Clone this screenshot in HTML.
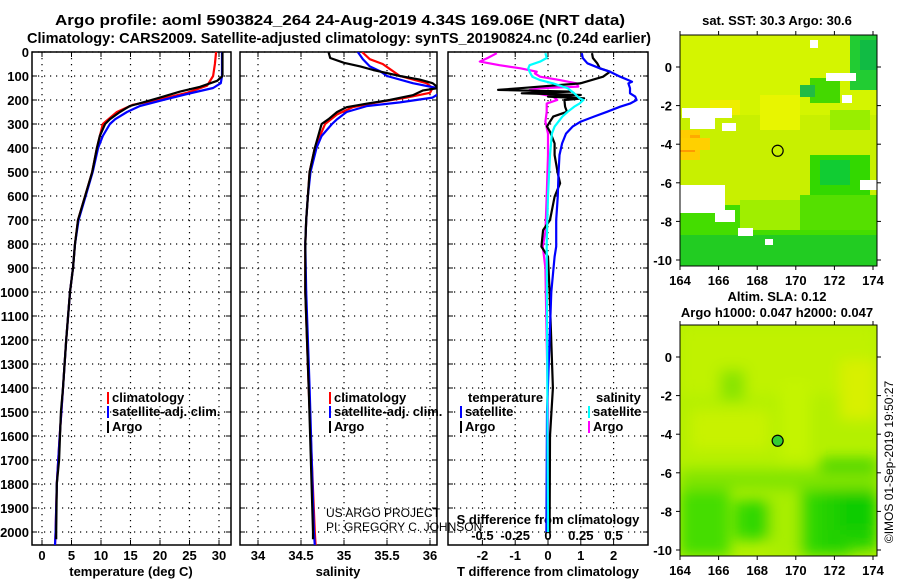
<!DOCTYPE html>
<html><head><meta charset="utf-8">
<style>
html,body{margin:0;padding:0;background:#fff;}
svg{display:block;font-family:"Liberation Sans",sans-serif;}
.b{font-weight:bold;font-size:13px;}
.n{font-weight:normal;font-size:12px;}
</style></head>
<body>
<svg id="s" width="900" height="580" viewBox="0 0 900 580" xmlns="http://www.w3.org/2000/svg">
<defs>
<clipPath id="c1"><rect x="32" y="52" width="199" height="493"/></clipPath>
<clipPath id="c2"><rect x="240" y="52" width="197" height="493"/></clipPath>
<clipPath id="c3"><rect x="448" y="52" width="200" height="493"/></clipPath>
<filter id="bl"><feGaussianBlur stdDeviation="7"/></filter>
<clipPath id="cm2"><rect x="680" y="325" width="197" height="231"/></clipPath>
</defs>
<text x="55" y="25" textLength="570" lengthAdjust="spacingAndGlyphs" font-weight="bold" font-size="15">Argo profile: aoml 5903824_264 24-Aug-2019 4.34S 169.06E (NRT data)</text>
<text x="27" y="43" textLength="624" lengthAdjust="spacingAndGlyphs" font-weight="bold" font-size="15">Climatology: CARS2009. Satellite-adjusted climatology: synTS_20190824.nc (0.24d earlier)</text>
<g id="g"></g>
</svg>
<script>
// ---- data ----
const tempArgoDepth=[0,100,120,145,165,190,210,225,250,280,300,350,400,500,600,700,800,900,1000,1200,1400,1500,1700,1800,2000,2030];
const tempArgo=[30.6,30.6,29.7,26.8,23.4,20.0,17.1,14.9,13.2,11.5,10.7,9.8,9.3,8.5,7.3,6.1,5.6,5.25,4.75,4.1,3.56,3.2,2.9,2.5,2.4,2.4];
const tempClimDepth=[0,50,100,140,170,200,220,250,300,400,500,600,700,800,900,1000,1200,1400,1600,1800,2000,2055];
const tempClim=[29.5,29.3,29.0,28.0,24.6,19.5,15.4,12.7,10.3,9.3,8.5,7.3,6.1,5.6,5.25,4.75,4.1,3.56,3.0,2.5,2.3,2.2];
const tempSatDepth=[0,100,130,150,175,200,225,250,280,300,350,400,500,600,700,800,900,1000,1200,1400,1600,1800,2000,2055];
const tempSat=[30.5,30.5,30.3,29.0,24.6,20.5,16.6,14.4,12.4,11.5,10.3,9.5,8.6,7.4,6.2,5.6,5.25,4.75,4.1,3.56,3.0,2.5,2.3,2.2];

const salArgoDepth=[0,25,45,60,75,100,115,130,150,160,180,200,215,230,250,280,300,350,400,500,600,700,800,1000,1400,2000,2030];
const salArgo=[34.82,34.84,35.0,35.19,35.34,35.65,35.88,36.03,36.1,35.92,35.8,35.53,35.27,35.03,34.92,34.82,34.74,34.7,34.66,34.6,34.58,34.56,34.55,34.55,34.59,34.64,34.64];
const salClimDepth=[0,30,50,70,100,130,150,170,190,210,230,260,300,400,500,600,700,800,1000,1400,2000,2055];
const salClim=[35.21,35.3,35.45,35.53,35.65,35.96,36.03,36.0,35.73,35.38,35.1,34.92,34.78,34.66,34.6,34.58,34.56,34.55,34.55,34.59,34.66,34.67];
const salSatDepth=[0,30,60,80,100,130,150,170,190,210,225,250,280,300,350,400,500,600,700,800,1000,1400,2000,2055];
const salSat=[35.16,35.22,35.3,35.42,35.5,35.8,36.08,36.12,36.03,35.65,35.27,35.03,34.92,34.86,34.74,34.68,34.61,34.58,34.56,34.55,34.56,34.6,34.65,34.66];

const dTArgoDepth=[5,25,47,68,82,103,131,151,158,165,172,179,186,193,200,228,249,269,290,311,332,381,429,506,547,603,700,742,811,853,1000,1400,1600,2000];
const dTArgo=[1.34,1.37,1.5,1.58,1.89,1.68,0.98,-0.85,-1.52,0.7,-0.8,1.0,0.0,1.1,0.5,0.52,0.58,0.16,0.06,-0.03,0.06,0.2,0.2,0.3,0.37,0.2,0.06,-0.15,-0.2,0.0,0.05,0.15,0.06,0.05];
const dTSatDepth=[5,25,47,68,82,103,117,124,131,151,172,186,200,215,228,249,269,290,311,340,381,429,506,600,700,811,853,1000,1500,2000];
const dTSat=[1.03,1.06,1.2,1.58,1.89,2.2,2.45,2.56,2.45,2.5,2.5,2.66,2.7,2.5,2.2,1.8,1.4,1.0,0.75,0.55,0.43,0.35,0.32,0.3,0.25,0.25,0.2,0.1,-0.03,-0.05];
const dSArgoDepth=[5,25,40,55,68,82,89,103,117,131,144,151,158,172,186,200,215,249,290,340,429,600,750,811,900,1500,2000];
const dSArgo=[-0.39,-0.46,-0.52,-0.37,-0.21,-0.085,-0.1,-0.06,0.09,0.22,0.23,-0.06,-0.14,-0.09,0.04,0.07,-0.01,-0.01,-0.02,0.0,0.0,-0.01,-0.02,-0.04,-0.02,0.0,0.0];
const dSSatDepth=[5,25,40,55,68,82,103,117,131,151,172,193,200,215,228,249,269,290,311,340,430,600,800,2000];
const dSSat=[-0.02,-0.01,-0.06,-0.14,-0.15,-0.14,-0.12,-0.06,0.04,0.15,0.2,0.24,0.27,0.24,0.2,0.15,0.11,0.08,0.05,0.03,0.015,0.0,-0.01,0.0];

const depthTicks=[0,100,200,300,400,500,600,700,800,900,1000,1100,1200,1300,1400,1500,1600,1700,1800,1900,2000];
const tempTicks=[0,5,10,15,20,25,30];
const salTicks=[34,34.5,35,35.5,36];
const salTickLabels=["34","34.5","35","35.5","36"];
const dTTicks=[-2,-1,0,1,2];
const dSTicks=[-0.5,-0.25,0,0.25,0.5];
const dSTickLabels=["-0.5","-0.25","0","0.25","0.5"];
const lonTicks=[164,166,168,170,172,174];
const latTicks=[0,-2,-4,-6,-8,-10];

// ---- scales ----
const yD=d=>52+d*0.24;
const xT=t=>42+t*5.9;
const xS=s=>258+(s-34)*86;
const xdT=t=>548+t*32.8;
const xdS=s=>548+s*131.2;

const NS="http://www.w3.org/2000/svg";
const G=document.getElementById('g');
function mk(tag,attrs,parent){const e=document.createElementNS(NS,tag);for(const k in attrs)e.setAttribute(k,attrs[k]);(parent||G).appendChild(e);return e;}
function txt(x,y,s,anchor,cls,parent){const e=mk('text',{x:x,y:y,'text-anchor':anchor||'middle','class':cls||'b'},parent);e.textContent=s;return e;}

const panels=[{x0:32,x1:231,clip:'c1',name:'temperature'},{x0:240,x1:437,clip:'c2',name:'salinity'},{x0:448,x1:648,clip:'c3',name:'difference'}];
const vgrid=[tempTicks.map(xT),salTicks.map(xS),dTTicks.map(xdT)];
panels.forEach((p,i)=>{
  const grp=mk('g',{});
  
  
  depthTicks.forEach(d=>{const y=yD(d);
    const l=mk('line',{x1:p.x0,x2:p.x1,y1:y,y2:y,stroke:'#000','stroke-width':1.2,'stroke-dasharray':'1.2 4.8'},grp);
    
    
    mk('line',{x1:p.x0,x2:p.x0+5,y1:y,y2:y,stroke:'#000'},grp);
    mk('line',{x1:p.x1-5,x2:p.x1,y1:y,y2:y,stroke:'#000'},grp);
  });
  vgrid[i].forEach(x=>{
    const l=mk('line',{x1:x,x2:x,y1:52,y2:545,stroke:'#000','stroke-width':1.2,'stroke-dasharray':'1.2 4.8'},grp);
    
    
    mk('line',{x1:x,x2:x,y1:52,y2:57,stroke:'#000'},grp);
    mk('line',{x1:x,x2:x,y1:540,y2:545,stroke:'#000'},grp);
  });
  const r=mk('rect',{x:p.x0,y:52,width:p.x1-p.x0,height:493,fill:'none',stroke:'#000','stroke-width':1.5},grp);
  
  
});

depthTicks.forEach(d=>{const t=txt(29,yD(d)+5,String(d),'end');
  
  });
tempTicks.forEach(v=>{const t=txt(xT(v),560,String(v));
  
  });
salTicks.forEach((v,i)=>{const t=txt(xS(v),560,salTickLabels[i]);
  
  });
dTTicks.forEach(v=>{const t=txt(xdT(v),560,String(v));
  
  });
dSTicks.forEach((v,i)=>{const t=txt(xdS(v),540,dSTickLabels[i]);
  
  });
let t;
t=txt(131,576,'temperature (deg C)');


t=txt(338,576,'salinity');


t=txt(548,576,'T difference from climatology');


t=txt(548,524,'S difference from climatology');



function line(xs,ds,xf,color,clip,name){
  const pts=xs.map((v,i)=>xf(v).toFixed(1)+','+yD(ds[i]).toFixed(1)).join(' ');
  const e=mk('polyline',{points:pts,fill:'none',stroke:color,'stroke-width':2.2,'clip-path':'url(#'+clip+')','stroke-linejoin':'round'});
  
  
}
line(tempClim,tempClimDepth,xT,'#f00','c1','temperature-climatology-line');
line(tempSat,tempSatDepth,xT,'#00f','c1','temperature-satellite-line');
line(tempArgo,tempArgoDepth,xT,'#000','c1','temperature-argo-line');
line(salClim,salClimDepth,xS,'#f00','c2','salinity-climatology-line');
line(salSat,salSatDepth,xS,'#00f','c2','salinity-satellite-line');
line(salArgo,salArgoDepth,xS,'#000','c2','salinity-argo-line');
line(dSArgo,dSArgoDepth,xdS,'#f0f','c3','s-diff-argo-line');
line(dTArgo,dTArgoDepth,xdT,'#000','c3','t-diff-argo-line');
line(dTSat,dTSatDepth,xdT,'#00f','c3','t-diff-satellite-line');
line(dSSat,dSSatDepth,xdS,'#0ff','c3','s-diff-satellite-line');

function leg(x,y,color,label,name){
  const g=mk('g',{});
  
  
  mk('rect',{x:x,y:y-10,width:2,height:12,fill:color},g);
  txt(x+5,y,label,'start','b',g).setAttribute('font-size','12');
}
leg(107,402,'#f00','climatology','legend-climatology');
leg(107,416,'#00f','satellite-adj. clim.','legend-satellite-adj');
leg(107,431,'#000','Argo','legend-argo');
leg(329,402,'#f00','climatology','legend-climatology-2');
leg(329,416,'#00f','satellite-adj. clim.','legend-satellite-adj-2');
leg(329,431,'#000','Argo','legend-argo-2');
t=txt(468,402,'temperature','start');t.setAttribute('font-size','12');


t=txt(596,402,'salinity','start');t.setAttribute('font-size','12');


leg(460,416,'#00f','satellite','legend-t-satellite');
leg(460,431,'#000','Argo','legend-t-argo');
leg(588,416,'#0ff','satellite','legend-s-satellite');
leg(588,431,'#f0f','Argo','legend-s-argo');
t=txt(326,517,'US ARGO PROJECT','start','n');


t=txt(326,531,'PI: GREGORY C. JOHNSON','start','n');



// ---- maps ----
const lonX=l=>680+(l-164)*19.3;
function mapFrame(y0,lat0y,name){
  const latY=la=>lat0y-la*19.3;
  const g=mk('g',{});
  
  
  mk('rect',{x:680,y:y0,width:197,height:231,fill:'none',stroke:'#000','stroke-width':1},g);
  lonTicks.forEach(l=>{const x=lonX(l);
    mk('line',{x1:x,x2:x,y1:y0-4,y2:y0,stroke:'#000'},g);
    mk('line',{x1:x,x2:x,y1:y0+231,y2:y0+235,stroke:'#000'},g);
    const e=txt(x,y0+250,String(l));e.setAttribute('font-size','14');
    
    
  });
  latTicks.forEach(la=>{const y=latY(la);
    mk('line',{x1:676,x2:680,y1:y,y2:y,stroke:'#000'},g);
    mk('line',{x1:877,x2:881,y1:y,y2:y,stroke:'#000'},g);
    const e=txt(672,y+5,String(la),'end');e.setAttribute('font-size','14');
    
    
  });
}
const m1=mk('g',{});


const sstPatches=[
 [680,35,197,231,'#c8f000'],
 [680,35,197,80,'#d4f500'],
 [680,205,197,61,'#44dd00'],
 [680,235,197,31,'#22cc22'],
 [740,200,60,30,'#a0ee00'],
 [800,195,77,35,'#55e000'],
 [810,155,60,40,'#33d800'],
 [820,160,30,25,'#11cc33'],
 [830,110,40,20,'#99ee00'],
 [810,78,30,25,'#44d800'],
 [800,85,15,12,'#22bb44'],
 [850,35,27,55,'#22cc33'],
 [860,40,17,30,'#11bb44'],
 [680,130,20,30,'#ffcc00'],
 [690,135,10,8,'#ffaa00'],
 [760,95,40,35,'#e8f500'],
 [710,100,30,15,'#eeee00'],
 [680,142,15,10,'#ff9900'],
 [680,138,30,12,'#ffd000'],
 [682,108,50,10,'#ffffff'],
 [690,117,25,12,'#ffffff'],
 [722,123,14,8,'#ffffff'],
 [680,185,45,28,'#ffffff'],
 [680,200,20,12,'#ffffff'],
 [715,210,20,12,'#ffffff'],
 [826,73,30,8,'#ffffff'],
 [842,95,10,8,'#ffffff'],
 [860,180,17,10,'#ffffff'],
 [810,40,8,8,'#ffffff'],
 [738,228,15,8,'#ffffff'],
 [765,239,8,6,'#ffffff']
];
sstPatches.forEach(p=>{mk('rect',{x:p[0],y:p[1],width:p[2],height:p[3],fill:p[4]},m1);});
const c1=mk('circle',{cx:lonX(169.06),cy:67+4.34*19.3,r:5.5,fill:'none',stroke:'#000','stroke-width':1.2},m1);


mapFrame(35,67,'sst-map');
t=txt(777,25,'sat. SST: 30.3 Argo: 30.6');t.setAttribute('font-size','13');



const m2=mk('g',{'clip-path':'url(#cm2)'});


mk('rect',{x:680,y:325,width:197,height:231,fill:'#b4f000'},m2);
const slaPatches=[
 [680,325,197,70,'#c0f200'],
 [840,360,37,60,'#d8f000'],
 [720,370,25,30,'#88e400'],
 [680,490,50,66,'#44dd00'],
 [735,500,35,40,'#33d800'],
 [770,490,30,66,'#a8ee00'],
 [800,480,50,76,'#33d800'],
 [820,460,57,90,'#22d000'],
 [840,470,37,60,'#11cc00'],
 [690,410,80,40,'#c8f200'],
 [780,380,30,80,'#c4f400'],
 [680,470,200,20,'#80e400']
];
const gb=mk('g',{filter:'url(#bl)'},m2);
slaPatches.forEach(p=>{mk('rect',{x:p[0],y:p[1],width:p[2],height:p[3],fill:p[4]},gb);});
const c2=mk('circle',{cx:lonX(169.06),cy:357+4.34*19.3,r:5.5,fill:'#33cc33',stroke:'#000','stroke-width':1.2});


mapFrame(325,357,'sla-map');
t=txt(777,301,'Altim. SLA: 0.12');t.setAttribute('font-size','13');


t=txt(777,317,'Argo h1000: 0.047 h2000: 0.047');t.setAttribute('font-size','13');


t=txt(0,0,'©IMOS 01-Sep-2019 19:50:27','middle','n');
t.setAttribute('font-size','13');
t.setAttribute('transform','translate(893,462) rotate(-90)');


</script>
</body></html>
